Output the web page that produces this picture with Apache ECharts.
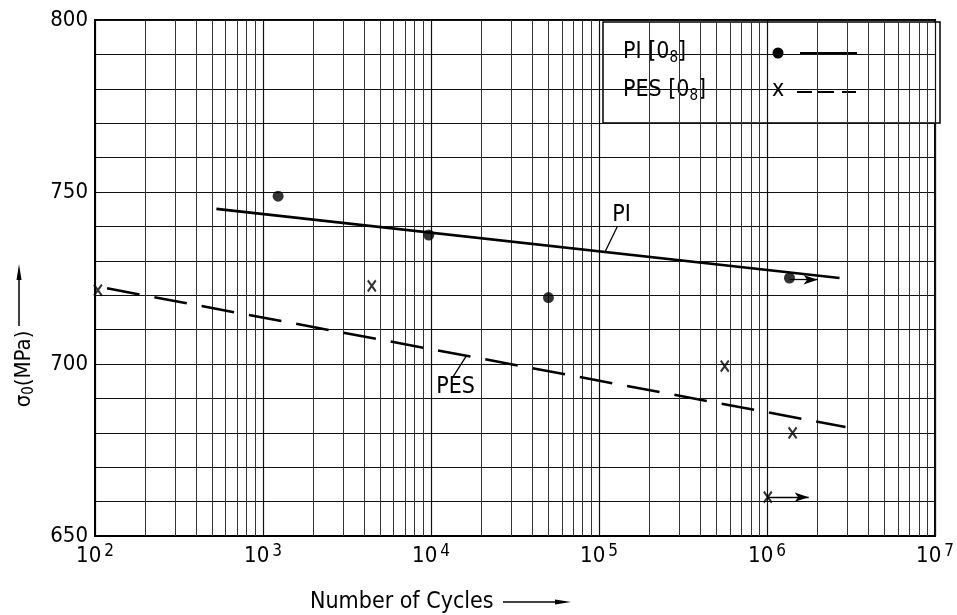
<!DOCTYPE html>
<html>
<head>
<meta charset="utf-8">
<script src="https://cdn.jsdelivr.net/npm/echarts@6/dist/echarts.min.js"></script>
<style>
html, body { margin: 0; padding: 0; background: #fff; }
#chart { width: 957px; height: 615px; }
</style>
</head>
<body>
<div id="chart"></div>
<script>
// values
var piCycles = [1230, 9700, 50000, 1360000];
var piStress = [748.8, 737.5, 719.3, 725];
var pesCycles = [104, 4440, 560000, 1420000, 1010000];
var pesStress = [721.5, 722.7, 699.4, 680, 661.3];

// fitted lines (end points)
var piFitCycles = [528, 2700000];
var piFitStress = [745.1, 725.0];
var pesFitCycles = [118, 2930000];
var pesFitStress = [722.0, 681.7];

// run-outs: arrow to the right of the point
var piRunout = [[1360000, 724.5], [2000000, 724.5]];
var pesRunout = [[1010000, 661.3], [1770000, 661.3]];

// curve labels and their leader lines
var piLabelAt = [136000, 743.3];
var piLeader = [[109000, 732.8], [129000, 740.1]];
var pesLabelAt = [14000, 693.3];
var pesLeader = [[13600, 696.5], [16200, 702.3]];

var yLabels = [650, 700, 750, 800];
var decades = [100, 1000, 10000, 100000, 1000000];

var FONT = '"DejaVu Sans Condensed", "DejaVu Sans", sans-serif';

function zip(a, b) {
  var out = [];
  for (var i = 0; i < a.length; i++) out.push([a[i], b[i]]);
  return out;
}

// minor log grid: 2..9 in every decade
var minorLines = [];
decades.forEach(function (d) {
  for (var k = 2; k <= 9; k++) minorLines.push({ xAxis: d * k });
});

function curveLabel(text, at) {
  return {
    silent: true,
    symbol: 'rect',
    symbolSize: 1,
    itemStyle: { color: 'rgba(0,0,0,0)' },
    label: { show: true, position: 'inside', color: '#000', fontSize: 23, fontFamily: FONT },
    data: [{ coord: at, value: text, label: { formatter: text } }]
  };
}

function leaderAndRunout(leader, runout) {
  return {
    silent: true,
    animation: false,
    label: { show: false },
    data: [
      [
        { coord: leader[0], symbol: 'none', lineStyle: { color: '#000', width: 1.3, type: 'solid' } },
        { coord: leader[1], symbol: 'none' }
      ],
      [
        { coord: runout[0], symbol: 'none', lineStyle: { color: '#000', width: 1.3, type: 'solid' } },
        { coord: runout[1], symbol: 'arrow', symbolSize: [7, 14] }
      ]
    ]
  };
}

var subRich = {
  a: { fontSize: 23, fontFamily: FONT, lineHeight: 28 },
  s: { fontSize: 15, fontFamily: FONT, verticalAlign: 'bottom', lineHeight: 26 }
};

var chart = echarts.init(document.getElementById('chart'));

var option = {
  animation: false,
  backgroundColor: '#fff',
  grid: {
    left: 95, right: 17, top: 20, bottom: 79,
    show: true, borderColor: '#000', borderWidth: 2
  },
  xAxis: {
    type: 'log',
    logBase: 10,
    min: 100,
    max: 10000000,
    axisLine: { show: true, lineStyle: { color: '#000', width: 2 } },
    axisTick: { show: false },
    splitLine: { show: true, lineStyle: { color: '#111', width: 1.2 } },
    axisLabel: {
      margin: 7,
      formatter: function (v) {
        return '{b|10}{s|' + Math.round(Math.log10(v)) + '}';
      },
      rich: {
        b: { fontSize: 22, fontFamily: FONT, color: '#000', lineHeight: 26 },
        s: { fontSize: 17, fontFamily: FONT, color: '#000', verticalAlign: 'top', lineHeight: 26, padding: [0, 0, 0, 3] }
      }
    }
  },
  yAxis: {
    type: 'value',
    min: 650,
    max: 800,
    interval: 10,
    axisLine: { show: true, lineStyle: { color: '#000', width: 2 } },
    axisTick: { show: false },
    splitLine: { show: true, lineStyle: { color: '#111', width: 1.2 } },
    axisLabel: {
      margin: 7,
      fontSize: 22,
      fontFamily: FONT,
      color: '#000',
      formatter: function (v) {
        return yLabels.indexOf(v) >= 0 ? String(v) : '';
      }
    }
  },
  series: [
    {
      name: 'grid',
      type: 'line',
      data: [],
      silent: true,
      markLine: {
        silent: true,
        symbol: 'none',
        label: { show: false },
        lineStyle: { color: '#333', width: 1, type: 'solid' },
        data: minorLines
      }
    },
    {
      name: 'PI',
      type: 'line',
      data: zip(piFitCycles, piFitStress),
      symbol: 'none',
      lineStyle: { color: '#000', width: 2.6, type: 'solid' },
      markLine: leaderAndRunout(piLeader, piRunout),
      markPoint: curveLabel('PI', piLabelAt),
      z: 5
    },
    {
      name: 'PES',
      type: 'line',
      data: zip(pesFitCycles, pesFitStress),
      symbol: 'none',
      lineStyle: { color: '#000', width: 2.6, type: [33, 15.1] },
      markLine: leaderAndRunout(pesLeader, pesRunout),
      markPoint: curveLabel('PES', pesLabelAt),
      z: 5
    },
    {
      name: 'PI points',
      type: 'scatter',
      data: zip(piCycles, piStress),
      symbol: 'circle',
      symbolSize: 11,
      itemStyle: { color: '#000' },
      z: 6
    },
    {
      name: 'PES points',
      type: 'scatter',
      data: zip(pesCycles, pesStress),
      symbol: 'path://M0,0L8,10M8,0L0,10',
      symbolSize: [8, 11],
      itemStyle: { color: 'rgba(0,0,0,0)', borderColor: '#000', borderWidth: 2.2 },
      z: 6
    }
  ],
  graphic: [
    // legend box
    {
      type: 'group',
      z: 100,
      children: [
        { type: 'rect', shape: { x: 603, y: 22, width: 337, height: 101 },
          style: { fill: '#fff', stroke: '#000', lineWidth: 1.5 } },
        { type: 'text', x: 623, y: 52,
          style: { text: '{a|PI [0}{s|8}{a|]}', verticalAlign: 'middle', fill: '#000', rich: subRich } },
        { type: 'circle', shape: { cx: 778, cy: 53, r: 5.5 }, style: { fill: '#000' } },
        { type: 'line', shape: { x1: 800, y1: 53, x2: 857, y2: 53 }, style: { stroke: '#000', lineWidth: 2 } },
        { type: 'text', x: 623, y: 90,
          style: { text: '{a|PES [0}{s|8}{a|]}', verticalAlign: 'middle', fill: '#000', rich: subRich } },
        { type: 'text', x: 778, y: 90,
          style: { text: 'x', align: 'center', verticalAlign: 'middle', fill: '#000', fontSize: 23, fontFamily: FONT } },
        { type: 'line', shape: { x1: 797, y1: 92, x2: 812, y2: 92 }, style: { stroke: '#000', lineWidth: 2 } },
        { type: 'line', shape: { x1: 818, y1: 92, x2: 834, y2: 92 }, style: { stroke: '#000', lineWidth: 2 } },
        { type: 'line', shape: { x1: 842, y1: 92, x2: 856, y2: 92 }, style: { stroke: '#000', lineWidth: 2 } }
      ]
    },
    // y axis name with arrow
    {
      type: 'text', x: 24, y: 369, rotation: Math.PI / 2,
      style: { text: '{a|σ}{s|0}{a|(MPa)}', align: 'center', verticalAlign: 'middle', fill: '#000',
        rich: {
          a: { fontSize: 22, fontFamily: FONT, lineHeight: 26 },
          s: { fontSize: 15, fontFamily: FONT, verticalAlign: 'bottom', lineHeight: 24 }
        } }
    },
    { type: 'line', shape: { x1: 19, y1: 326, x2: 19, y2: 276 }, style: { stroke: '#000', lineWidth: 1.5 } },
    { type: 'polygon', shape: { points: [[19, 264], [16.5, 280], [21.5, 280]] }, style: { fill: '#000' } },
    // x axis name with arrow
    {
      type: 'text', x: 310, y: 602,
      style: { text: 'Number of Cycles', align: 'left', verticalAlign: 'middle', fill: '#000', fontSize: 23, fontFamily: FONT }
    },
    { type: 'line', shape: { x1: 503, y1: 602, x2: 558, y2: 602 }, style: { stroke: '#000', lineWidth: 1.5 } },
    { type: 'polygon', shape: { points: [[571, 602], [555, 599.5], [555, 604.5]] }, style: { fill: '#000' } }
  ]
};

chart.setOption(option);
</script>
</body>
</html>
